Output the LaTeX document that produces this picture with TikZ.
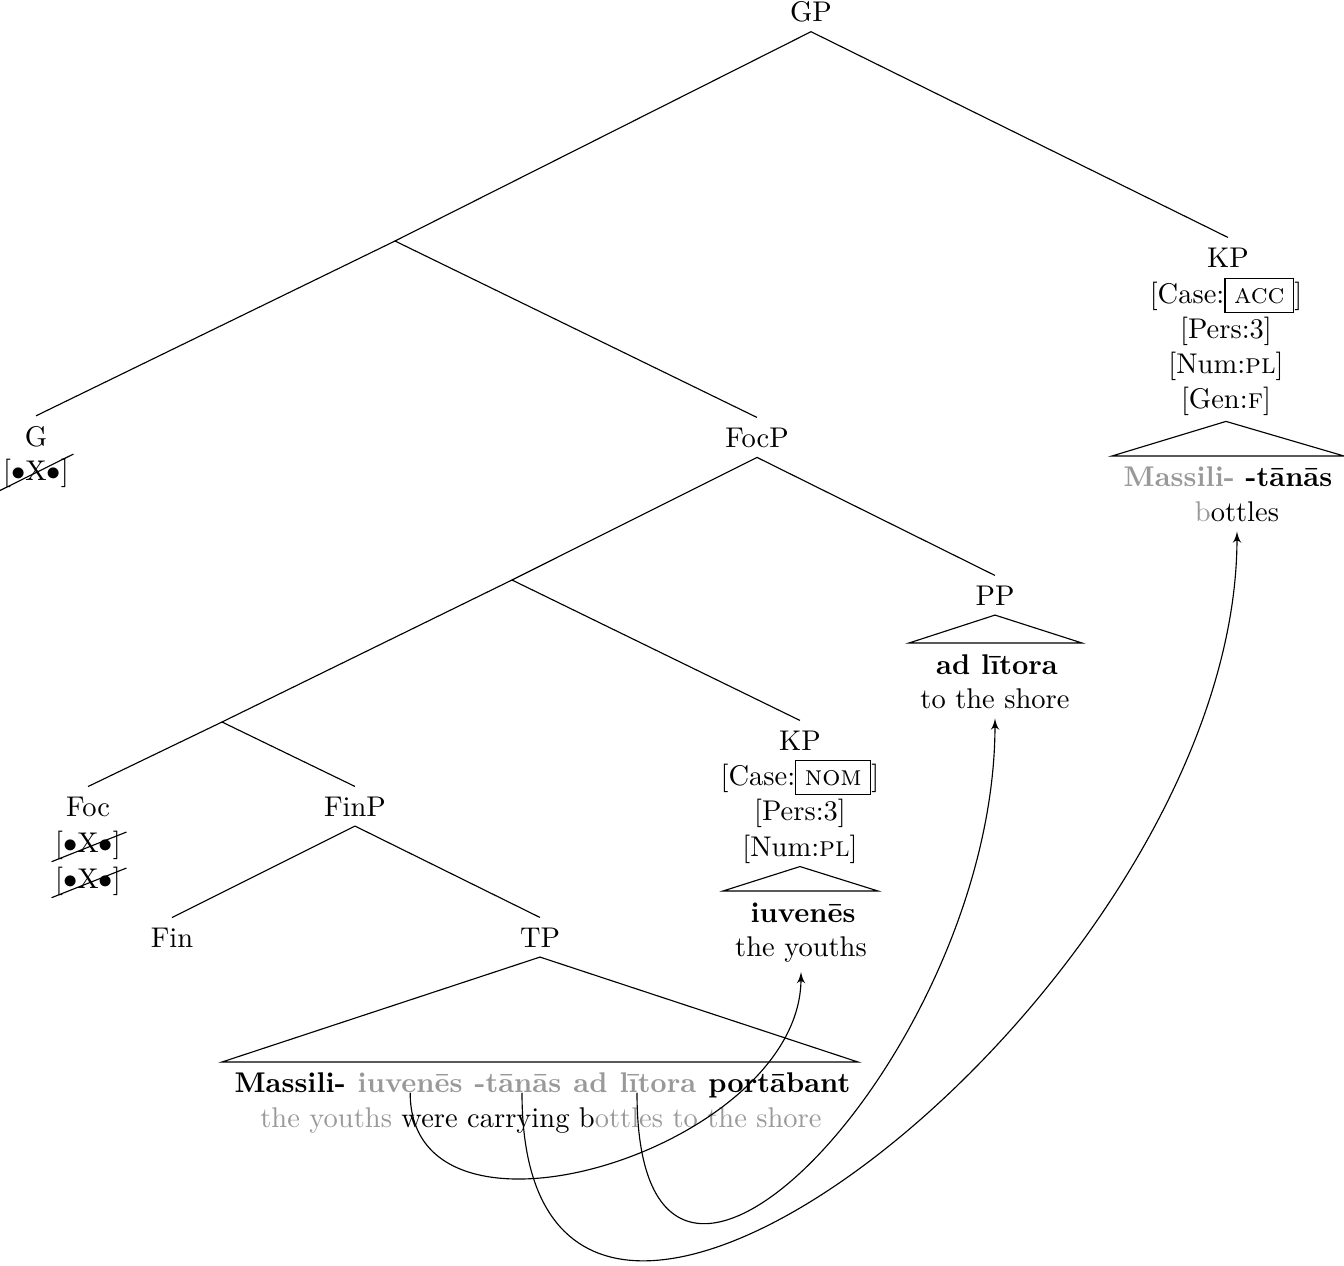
\documentclass[tikz,border=0pt]{standalone}
\usepackage{xcolor}
\usepackage{tikz}
\usetikzlibrary{arrows, positioning}
\definecolor{shade}{gray}{0.6}
\newcommand{\gr}[1]{\textcolor{shade}{#1}}
\newcommand{\valbox}[1]{\fbox{\textsc{#1}}}
\newcommand{\strikefeat}{[$\bullet$X$\bullet$]}
\tikzstyle{cat} = [anchor=base]
\tikzstyle{feat} = [anchor=base, inner sep=0pt]
\tikzstyle{word} = [inner sep=0pt, font=\bfseries]
\tikzstyle{line} = [draw]
\tikzstyle{move} = [draw, -latex']

\begin{document}
\begin{tikzpicture}[x=0.3509pt, y=-0.3509pt]
      \useasboundingbox (0,0) rectangle (1344,1266);
      % Top
      \node [cat] (gp) at (811,21) {GP};
      \coordinate (nA) at (395,241);
      \node [cat] (g) at (36,446) {G};
      \node [feat] (gFeat) at (36,480) {\strikefeat};
      \node [cat] (focp) at (757,447) {FocP};
      % Object KP
      \node [cat] (kpAcc) at (1228,267) {KP};
      \node [feat] (accCase) at (1226,303) {[Case:\valbox{acc}]};
      \node [feat] (accPers) at (1226,338) {[Pers:3]};
      \node [feat] (accNum) at (1226,373) {[Num:\textsc{pl}]};
      \node [feat] (accGen) at (1226,408) {[Gen:\textsc{f}]};
      \node [cat] (accWords) at (1228,486) {\textbf{\gr{Massili-} -tānās}};
      \node [cat] (accGloss) at (1237,521) {\gr{b}ottles};
      % PP
      \node [cat] (pp) at (995,605) {PP};
      \node [cat] (ppWord) at (997,674) {\textbf{ad lītora}};
      \node [cat] (ppGloss) at (995,708) {to the shore};
      \coordinate (nB) at (512,580);
      % Subject KP
      \node [cat] (kpNom) at (800,750) {KP};
      \node [feat] (nomCase) at (800,785) {[Case:\valbox{nom}]};
      \node [feat] (nomPers) at (800,820) {[Pers:3]};
      \node [feat] (nomNum) at (800,856) {[Num:\textsc{pl}]};
      \node [cat] (nomWord) at (803,922) {\textbf{iuvenēs}};
      \node [cat] (nomGloss) at (801,956) {the youths};
      \coordinate (nC) at (222,722);
      % Foc and FinP
      \node [cat] (foc) at (88,816) {Foc};
      \node [feat] (focF1) at (88,852) {\strikefeat};
      \node [feat] (focF2) at (88,888) {\strikefeat};
      \node [cat] (finp) at (355,816) {FinP};
      \node [cat] (fin) at (172,947) {Fin};
      \node [cat] (tp) at (540,947) {TP};
      % TP string
      \node [word, anchor=base west] (w1) at (234,1092) {Massili-};
      \node [word, base right=3.83pt of w1] (w2) {\gr{iuvenēs}};
      \node [word, base right=3.83pt of w2] (w3) {\gr{-tānās}};
      \node [word, base right=3.83pt of w3] (w4) {\gr{ad}};
      \node [word, base right=3.83pt of w4] (w5) {\gr{lītora}};
      \node [word, base right=3.83pt of w5] (w6) {portābant};
      \node [cat] (gloss) at (541,1127) {\gr{the youths} were carrying b\gr{ottles to the shore}};
      % Branches
      \path [line] (gp.south) -- (nA);
      \path [line] (gp.south) -- (kpAcc.north);
      \path [line] (nA) -- (g.north);
      \path [line] (nA) -- (focp.north);
      \path [line] (focp.south) -- (nB);
      \path [line] (focp.south) -- (pp.north);
      \path [line] (nB) -- (nC);
      \path [line] (nB) -- (kpNom.north);
      \path [line] (nC) -- (foc.north);
      \path [line] (nC) -- (finp.north);
      \path [line] (finp.south) -- (fin.north);
      \path [line] (finp.south) -- (tp.north);
      % Roofs
      \path [line] ([yshift=-2pt]accGen.south) -- (1112,456) -- (1344,456) -- cycle;
      \path [line] (pp.south) -- (909,643) -- (1082,643) -- cycle;
      \path [line] ([yshift=-1pt]nomNum.south) -- (723,891) -- (878,891) -- cycle;
      \path [line] (tp.south) -- (222,1062) -- (858,1062) -- cycle;
      % Checked features
      \path [line] ([shift={(-3,3)}]gFeat.south west) -- ([shift={(4,-4)}]gFeat.north east);
      \path [line] ([shift={(-3,2)}]focF1.south west) -- ([shift={(5,2)}]focF1.north east);
      \path [line] ([shift={(-3,2)}]focF2.south west) -- ([shift={(5,2)}]focF2.north east);
      % Movement
      \path [move] (w2.south) to [out=-90, in=-90, looseness=1.1] (nomGloss.south);
      \path [move] ([shift={(4,0)}]w3.south) to [out=-90, in=-90, looseness=1.28] (accGloss.south);
      \path [move] ([shift={(18,0)}]w5.south west) to [out=-90, in=-90, looseness=1.65] (ppGloss.south);
\end{tikzpicture}
\end{document}
